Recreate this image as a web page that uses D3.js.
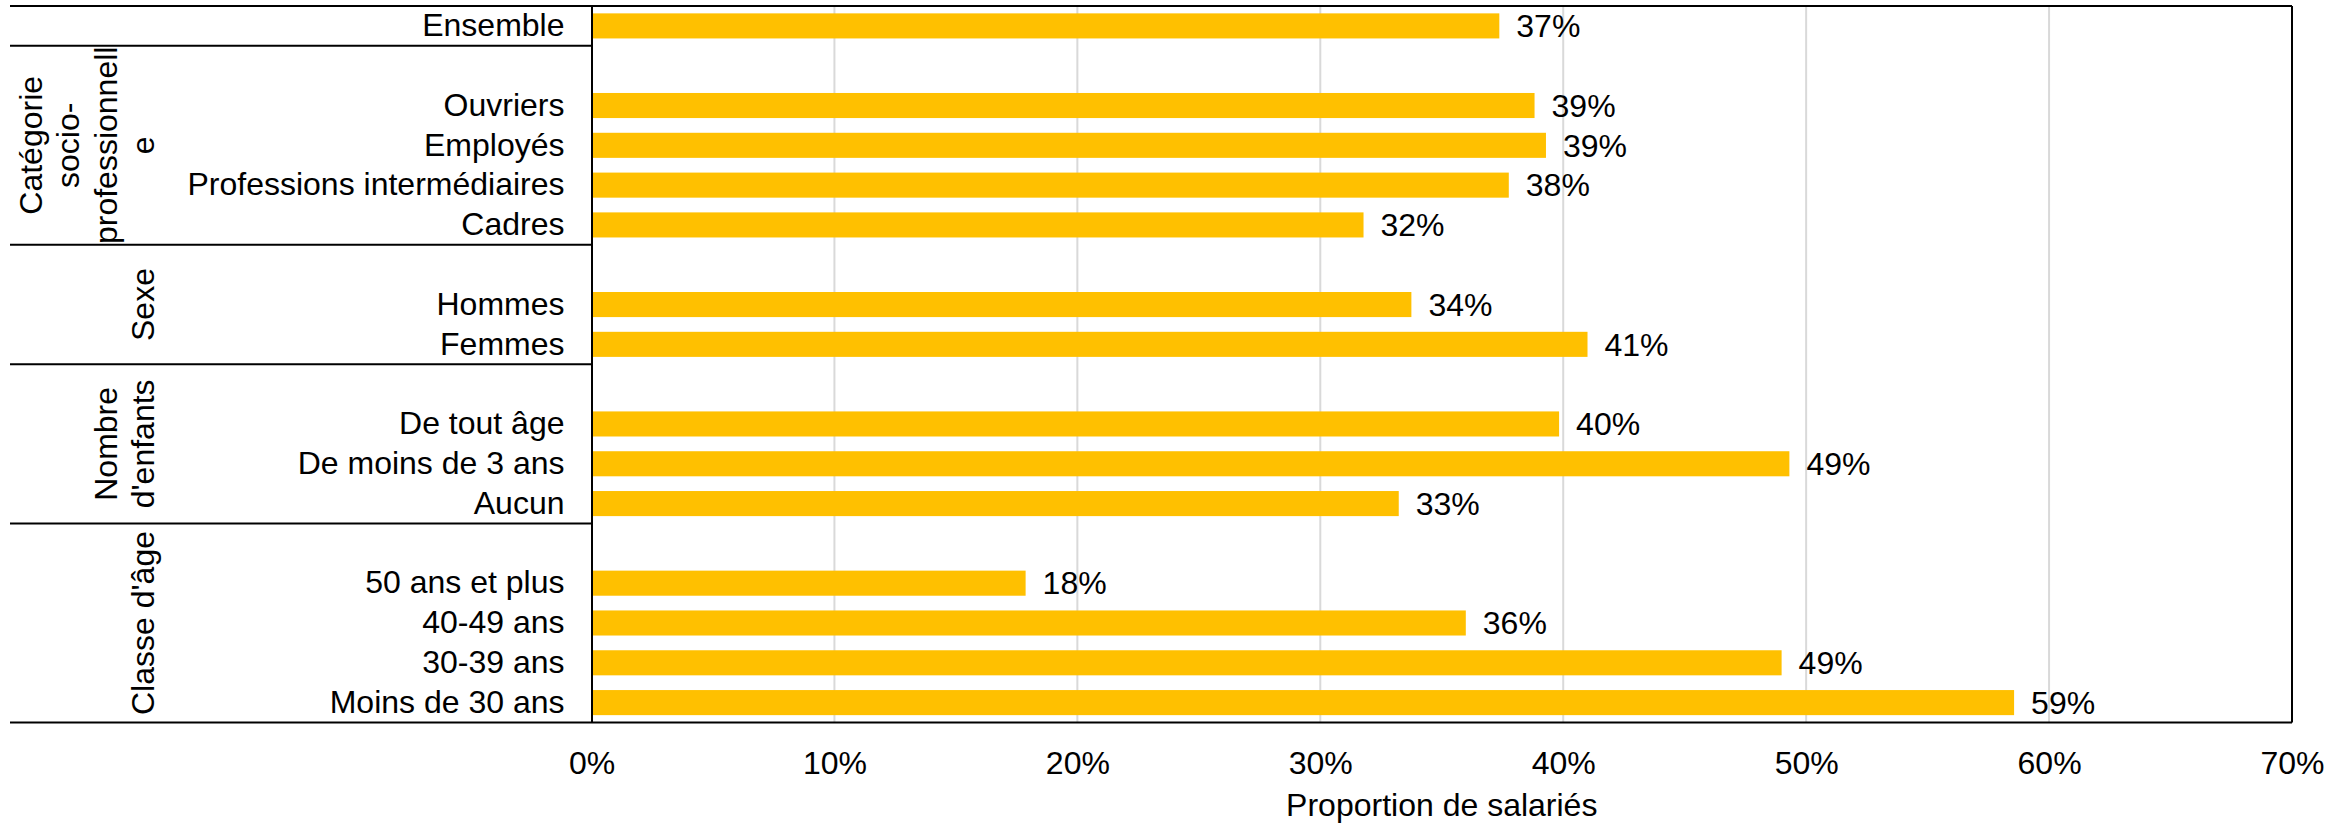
<!DOCTYPE html>
<html>
<head>
<meta charset="utf-8">
<script src="https://cdn.jsdelivr.net/npm/d3@7"></script>
<style>
  html, body { margin: 0; padding: 0; background: #fff; }
  svg { display: block; }
  text { font-family: "Liberation Sans", Arial, sans-serif; fill: #000; }
</style>
</head>
<body>
<svg id="chart" width="2351" height="824"></svg>
<script>
// ---- data ----
const rowLabels = [
  "Ensemble", "",
  "Ouvriers", "Employés", "Professions intermédiaires", "Cadres", "",
  "Hommes", "Femmes", "",
  "De tout âge", "De moins de 3 ans", "Aucun", "",
  "50 ans et plus", "40-49 ans", "30-39 ans", "Moins de 30 ans"
];
const values = [
  0.3737, null,
  0.3882, 0.3929, 0.3776, 0.3178, null,
  0.3375, 0.4100, null,
  0.3983, 0.4931, 0.3323, null,
  0.1787, 0.3599, 0.4899, 0.5856
];
const groupLines = [
  ["Catégorie", "socio-", "professionnell", "e"],
  ["Sexe"],
  ["Nombre", "d'enfants"],
  ["Classe d'âge"]
];
const groupFirst = [1, 6, 9, 13];
const groupLast  = [5, 8, 12, 17];
const xTicks = [0, 0.1, 0.2, 0.3, 0.4, 0.5, 0.6, 0.7];
const xTitle = "Proportion de salariés";

(function () {
// ---- layout ----
const FS = 32;
const pLeft = 591.5, pRight = 2292, pTop = 6, pBottom = 722.5, outerLeft = 10;
const svg = d3.select("#chart");

const x = d3.scaleLinear().domain([0, 0.7]).range([pLeft, pRight]);
const y = d3.scaleBand().domain(d3.range(rowLabels.length)).range([pTop, pBottom])
  .paddingInner(0.37).paddingOuter(0.185);
const step = y.step();
const slotTop = i => pTop + step * i;

// gridlines
svg.append("g").selectAll("line").data(xTicks.filter(t => t > 0 && t < 0.7)).join("line")
  .attr("x1", d => x(d)).attr("x2", d => x(d))
  .attr("y1", pTop).attr("y2", pBottom)
  .attr("stroke", "#d9d9d9").attr("stroke-width", 2);

// bars
const rows = values.map((v, i) => ({ i, v })).filter(d => d.v !== null);
svg.append("g").selectAll("rect").data(rows).join("rect")
  .attr("x", x(0)).attr("y", d => y(d.i))
  .attr("width", d => x(d.v) - x(0)).attr("height", y.bandwidth())
  .attr("fill", "#FFC000");

// value labels
svg.append("g").selectAll("text").data(rows).join("text")
  .attr("x", d => x(d.v) + 17).attr("y", d => y(d.i) + y.bandwidth() / 2)
  .attr("dy", "0.35em").attr("font-size", FS)
  .text(d => d3.format(".0%")(d.v));

// frame lines
const frame = svg.append("g").attr("stroke", "#000").attr("stroke-width", 2);
frame.append("line").attr("x1", outerLeft).attr("x2", pRight).attr("y1", pTop).attr("y2", pTop);
frame.append("line").attr("x1", outerLeft).attr("x2", pRight).attr("y1", pBottom).attr("y2", pBottom);
frame.append("line").attr("x1", pRight).attr("x2", pRight).attr("y1", pTop).attr("y2", pBottom);
frame.selectAll(".sep").data(groupFirst).join("line").attr("class", "sep")
  .attr("x1", outerLeft).attr("x2", pLeft)
  .attr("y1", d => slotTop(d)).attr("y2", d => slotTop(d));

// category axis
const yAxis = svg.append("g").attr("transform", `translate(${pLeft},0)`)
  .call(d3.axisLeft(y).tickSize(0).tickSizeOuter(0).tickPadding(27).tickFormat(i => rowLabels[i]));
yAxis.select(".domain").attr("stroke", "#000").attr("stroke-width", 2);
yAxis.selectAll("text").attr("font-size", FS).attr("font-family", null).attr("fill", "#000");

// x axis
const xAxis = svg.append("g").attr("transform", `translate(0,${pBottom})`)
  .call(d3.axisBottom(x).tickValues(xTicks).tickSize(0).tickFormat(d3.format(".0%")));
xAxis.select(".domain").remove();
xAxis.selectAll("text").attr("font-size", FS).attr("font-family", null).attr("fill", "#000")
  .attr("y", 40).attr("dy", "0.35em");

// x title
svg.append("text").attr("x", (pLeft + pRight) / 2).attr("y", 805)
  .attr("text-anchor", "middle").attr("dy", "0.35em").attr("font-size", FS).text(xTitle);

// group labels (rotated, multi-line)
const lineGap = 37.5;
groupLines.forEach((lines, g) => {
  const cy = (slotTop(groupFirst[g]) + slotTop(groupLast[g] + 1)) / 2;
  const t = svg.append("text")
    .attr("transform", `translate(143,${cy}) rotate(-90)`)
    .attr("text-anchor", "middle").attr("font-size", FS);
  lines.forEach((ln, k) => {
    t.append("tspan").attr("x", 0).attr("y", (k - (lines.length - 1)) * lineGap)
      .attr("dy", "0.35em").text(ln);
  });
});
})();
</script>
</body>
</html>
